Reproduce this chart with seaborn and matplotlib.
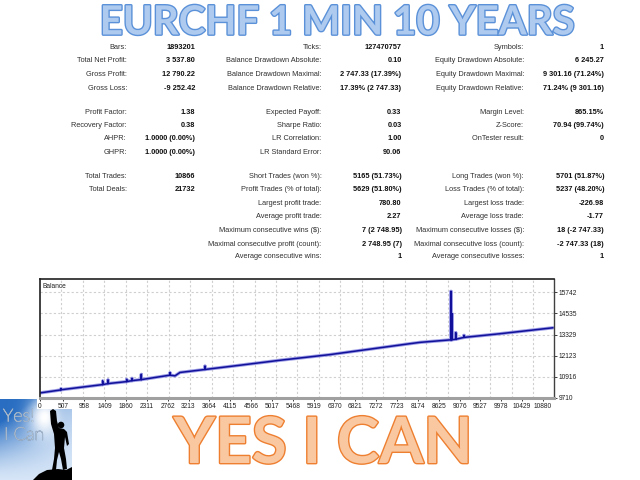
import numpy as np
import matplotlib
matplotlib.use("Agg")
import matplotlib.pyplot as plt
import matplotlib.patheffects as pe
from matplotlib.patches import Polygon, Circle, Rectangle
from matplotlib.ticker import MultipleLocator
import seaborn as sns

# ---------------- data ----------------
TITLE = "EURCHF 1 MIN 10 YEARS"
SLOGAN = "YES I CAN"

col1_labels = ["Bars:", "Total Net Profit:", "Gross Profit:", "Gross Loss:", "",
               "Profit Factor:", "Recovery Factor:", "AHPR:", "GHPR:", "",
               "Total Trades:", "Total Deals:", "", "", "", "", ""]
col1_values = ["1893201", "3 537.80", "12 790.22", "-9 252.42", "",
               "1.38", "0.38", "1.0000 (0.00%)", "1.0000 (0.00%)", "",
               "10866", "21732", "", "", "", "", ""]
col2_labels = ["Ticks:", "Balance Drawdown Absolute:", "Balance Drawdown Maximal:",
               "Balance Drawdown Relative:", "",
               "Expected Payoff:", "Sharpe Ratio:", "LR Correlation:", "LR Standard Error:", "",
               "Short Trades (won %):", "Profit Trades (% of total):", "Largest profit trade:",
               "Average profit trade:", "Maximum consecutive wins ($):",
               "Maximal consecutive profit (count):", "Average consecutive wins:"]
col2_values = ["127470757", "0.10", "2 747.33 (17.39%)", "17.39% (2 747.33)", "",
               "0.33", "0.03", "1.00", "90.06", "",
               "5165 (51.73%)", "5629 (51.80%)", "780.80", "2.27", "7 (2 748.95)",
               "2 748.95 (7)", "1"]
col3_labels = ["Symbols:", "Equity Drawdown Absolute:", "Equity Drawdown Maximal:",
               "Equity Drawdown Relative:", "",
               "Margin Level:", "Z-Score:", "OnTester result:", "", "",
               "Long Trades (won %):", "Loss Trades (% of total):", "Largest loss trade:",
               "Average loss trade:", "Maximum consecutive losses ($):",
               "Maximal consecutive loss (count):", "Average consecutive losses:"]
col3_values = ["1", "6 245.27", "9 301.16 (71.24%)", "71.24% (9 301.16)", "",
               "865.15%", "70.94 (99.74%)", "0", "", "",
               "5701 (51.87%)", "5237 (48.20%)", "-226.98", "-1.77", "18 (-2 747.33)",
               "-2 747.33 (18)", "1"]

# balance curve (trade number, balance); spikes go up and back
balance_x = [0, 433, 454, 454, 454, 1356, 1356, 1356, 1471, 1471, 1471,
             1875, 1875, 1875, 1990, 1990, 1990, 2191, 2191, 2191,
             2812, 2812, 2812, 2920, 3028, 3569, 3569, 3569, 4326, 5191, 6273,
             8003, 8219, 8868, 8890, 8890, 8890, 8912, 8912, 8912, 8992, 8992, 8992,
             9171, 9171, 9171, 9950, 11096]
balance_y = [10000, 10163, 10180, 10237, 10180, 10475, 10673, 10475, 10531, 10730, 10531,
             10645, 10769, 10645, 10701, 10826, 10701, 10758, 11052, 10758,
             11013, 11143, 11013, 10973, 11166, 11336, 11522, 11336, 11579, 11862, 12185,
             12808, 12882, 13023, 13030, 15788, 13030, 13035, 14507, 13035, 13060, 13431, 13060,
             13165, 13278, 13165, 13375, 13714]

x_ticks = [0, 507, 958, 1409, 1860, 2311, 2762, 3213, 3664, 4115, 4566, 5017, 5468,
           5919, 6370, 6821, 7272, 7723, 8174, 8625, 9076, 9527, 9978, 10429, 10880]
y_ticks = [9710, 10916, 12123, 13329, 14535, 15742]

# ---------------- layout helpers ----------------
W, H = 640, 480
def fx(px):
    return px / W
def fy(py):
    return 1 - py / H

sns.set_theme(style="white")
plt.rcParams['font.family'] = ['Liberation Sans', 'DejaVu Sans']

fig = plt.figure(figsize=(6.4, 4.8), dpi=100)
fig.patch.set_facecolor("white")

# title
fig.text(fx(337), fy(34.5), TITLE, ha="center", va="baseline", fontsize=29,
         fontweight="bold", family="Lato", color="#aecbef",
         path_effects=[pe.withStroke(linewidth=2.0, foreground="#5b91d8")])

# statistics table
row_y = [47.5, 61, 74.5, 88, 100, 112, 125.5, 139, 152, 165, 177, 190, 203.5, 217, 230.5, 244, 257]
columns = [(col1_labels, col1_values, 127, 195),
           (col2_labels, col2_values, 321.5, 401.5),
           (col3_labels, col3_values, 524, 604)]
for labels, values, lx, vx in columns:
    for i, (lab, val) in enumerate(zip(labels, values)):
        if lab:
            fig.text(fx(lx), fy(row_y[i]), lab, ha="right", va="center",
                     fontsize=5.3, color="#303030")
        if val:
            fig.text(fx(vx), fy(row_y[i]), val, ha="right", va="center",
                     fontsize=5.3, fontweight="bold", color="#101010")

# logo (bottom-left), drawn below the chart
lax = fig.add_axes([0, 0, fx(72), 81 / H])
lax.set_zorder(0)
yy, xx = np.mgrid[0:1:81j, 0:1:72j]
blue = np.array([0.16, 0.43, 0.76])
light = np.array([0.84, 0.90, 0.97])
white = np.array([1.0, 1.0, 1.0])
s = np.clip(1.25 * (1 - xx) ** 1.1 * (1 - yy) ** 1.3 + 0.35 * (1 - yy) ** 2, 0, 1)
img = light * (1 - s[..., None]) + blue * s[..., None]
glow = np.exp(-(((xx - 0.62) / 0.22) ** 2 + ((yy - 0.22) / 0.25) ** 2))
img = img * (1 - glow[..., None]) + white * glow[..., None]
lax.imshow(img, extent=(0, 72, 81, 0), aspect="auto")
lax.set_xlim(0, 72)
lax.set_ylim(81, 0)
lax.axis("off")
lax.text(3, 22.5, "Yes!", fontsize=13, family="Lato", fontweight="light", color="white",
         va="baseline", path_effects=[pe.withStroke(linewidth=0.7, foreground="#8aa2bd")])
lax.text(4, 41, "I Can", fontsize=13, family="Lato", fontweight="light", color="white",
         va="baseline", path_effects=[pe.withStroke(linewidth=0.7, foreground="#8aa2bd")])
body = [(50, 12), (53, 10), (56, 12), (57, 22), (59, 29), (64, 30), (67, 33), (69, 45),
        (67, 47), (65, 38), (64, 49), (66, 60), (67, 70), (63, 71), (61, 60), (59, 53),
        (57, 61), (56, 71), (52, 71), (54, 60), (55, 49), (54, 35), (51, 25)]
lax.add_patch(Polygon(body, closed=True, facecolor="black", edgecolor="none"))
lax.add_patch(Circle((61, 26), 3.3, facecolor="black", edgecolor="none"))
rock = [(33, 81), (39, 75), (47, 71), (58, 70), (66, 71), (72, 68), (72, 81)]
lax.add_patch(Polygon(rock, closed=True, facecolor="black", edgecolor="none"))

# white strip under the chart's x labels, on top of the logo
fig.add_artist(Rectangle((fx(37), fy(409)), fx(45), (409 - 398) / H,
                         transform=fig.transFigure, facecolor="white",
                         edgecolor="none", zorder=0.5))

# balance chart
ax = fig.add_axes([fx(40), fy(398), fx(554) - fx(40), (398 - 279) / H])
ax.set_zorder(1)
sns.lineplot(x=balance_x, y=balance_y, ax=ax, sort=False, estimator=None,
             color="#9c9ce6", linewidth=2.4)
sns.lineplot(x=balance_x, y=balance_y, ax=ax, sort=False, estimator=None,
             color="#10109a", linewidth=1.1)
ax.set_xlim(0, 11118)
ax.set_ylim(9710, 16495)
ax.set_xticks(x_ticks)
ax.set_xticklabels([str(v) for v in x_ticks])
ax.set_yticks(y_ticks)
ax.set_yticklabels([str(v) for v in y_ticks])
ax.yaxis.tick_right()
ax.xaxis.set_minor_locator(MultipleLocator(464))
ax.grid(False)
ax.grid(which="minor", axis="x", linestyle=(0, (2, 2)), color="#cfcfcf", linewidth=0.8)
ax.grid(which="major", axis="y", linestyle=(0, (2, 2)), color="#cfcfcf", linewidth=0.8)
ax.tick_params(which="minor", length=0)
ax.tick_params(axis="both", which="major", labelsize=4.8, length=2, width=0.6,
               pad=1.5, colors="#202020")
ax.tick_params(axis="y", direction="out", right=True, left=False)
ax.tick_params(axis="x", direction="out", bottom=True)
for side in ["top", "left"]:
    ax.spines[side].set_color("#202020")
    ax.spines[side].set_linewidth(1.2)
ax.spines["right"].set_color("#404040")
ax.spines["right"].set_linewidth(1.0)
ax.spines["bottom"].set_color("#a0a0a0")
ax.spines["bottom"].set_linewidth(2.2)
ax.set_xlabel("")
ax.set_ylabel("")
ax.text(0.004, 0.97, "Balance", transform=ax.transAxes, ha="left", va="top",
        fontsize=4.8, color="#202020")

# slogan
fig.text(fx(323), fy(463), SLOGAN, ha="center", va="baseline", fontsize=46,
         fontweight="bold", family="Lato", color="#f9c8a1",
         path_effects=[pe.withStroke(linewidth=2.0, foreground="#ee7f30")])

fig.savefig("out.png", dpi=100, facecolor="white")
